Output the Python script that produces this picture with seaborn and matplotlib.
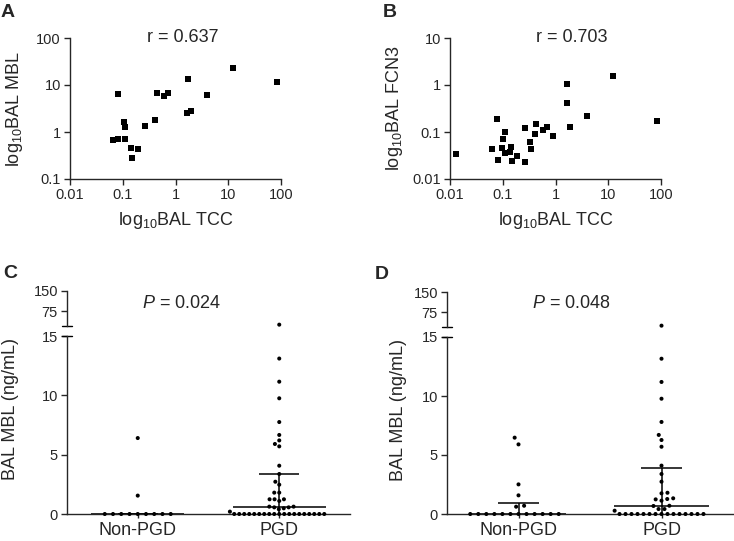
import matplotlib
matplotlib.use("Agg")
import matplotlib.pyplot as plt
from matplotlib.ticker import NullLocator
import seaborn as sns

# -----------------------------
# Style Settings
sns.set_style("ticks")
plt.rcParams["font.family"] = ["Liberation Sans", "DejaVu Sans"]
plt.rcParams["mathtext.fontset"] = "custom"
plt.rcParams["mathtext.rm"] = "Liberation Sans"
plt.rcParams["mathtext.it"] = "Liberation Sans:italic"

# -----------------------------
# Data
# A: BAL TCC vs BAL MBL
a_tcc = [0.080, 0.44, 0.61, 0.72, 1.69, 4.0, 1.94, 1.66, 0.104, 0.112,
         0.268, 0.414, 0.064, 0.082, 0.112, 0.143, 0.195, 0.152, 12.1, 85]
a_mbl = [6.44, 6.86, 5.83, 6.65, 13.2, 6.04, 2.84, 2.57, 1.63, 1.30,
         1.36, 1.83, 0.666, 0.72, 0.72, 0.457, 0.434, 0.284, 23.1, 11.5]

# B: BAL TCC vs BAL FCN3
b_tcc = [0.0128, 0.079, 0.0625, 0.080, 0.110, 0.102, 0.098, 0.110, 0.143,
         0.137, 0.147, 0.189, 0.261, 0.261, 0.329, 0.345, 0.427, 0.415,
         0.587, 0.70, 0.885, 1.67, 1.88, 4.0, 1.64, 12.1, 84]
b_fcn3 = [0.0335, 0.186, 0.0429, 0.0254, 0.100, 0.072, 0.0464, 0.0352,
          0.0486, 0.0381, 0.0245, 0.0309, 0.122, 0.0233, 0.0613, 0.0442,
          0.148, 0.0907, 0.110, 0.130, 0.082, 0.42, 0.130, 0.219, 1.04,
          1.56, 0.173]

# C and D: BAL MBL (ng/mL) by group
groups = ["Non-PGD", "PGD"]
c_nonpgd = [0, 0, 0, 0, 0, 0, 0, 0, 0, 1.55, 6.4]
c_pgd = [25, 13.1, 11.15, 9.75, 7.75, 6.66, 6.2, 5.9, 5.7, 4.07, 3.37,
         2.72, 2.47, 1.8, 1.8, 1.24, 1.24, 1.24, 1.1, 0.56, 0.48, 0.62,
         0.62, 0.56, 0.4, 0.2,
         0, 0, 0, 0, 0, 0, 0, 0, 0, 0, 0, 0, 0, 0, 0, 0, 0, 0, 0]
d_nonpgd = [0, 0, 0, 0, 0, 0, 0, 0, 0, 0, 0, 0,
            6.47, 5.9, 2.51, 1.58, 0.62, 0.7]
d_pgd = [25, 13.16, 11.19, 9.77, 7.8, 6.7, 6.27, 5.7, 4.1, 3.39, 2.74,
         1.75, 1.8, 1.33, 1.27, 1.13, 1.24, 0.7, 0.68, 0.28, 0.42, 0.42,
         0, 0, 0, 0, 0, 0, 0, 0, 0, 0, 0, 0, 0, 0, 0]

# median and interquartile range as drawn
c_median = [0, 0.62]
c_q1 = [0, 0]
c_q3 = [0, 3.37]
d_median = [0, 0.65]
d_q1 = [0, 0]
d_q3 = [0.9, 3.93]

log_ticks_a = [0.1, 1, 10, 100]
log_ticks_b = [0.01, 0.1, 1, 10]
log_ticks_x = [0.01, 0.1, 1, 10, 100]
lower_ticks = [0, 5, 10, 15]
upper_ticks = [75, 150]

TICK = 10.5
LAB = 13

fig = plt.figure(figsize=(7.34, 5.41), dpi=100)


def style(ax):
    for s in ax.spines.values():
        s.set_linewidth(1.0)
    ax.tick_params(labelsize=TICK, length=4, width=1.0, pad=2.5)


def drop_empty(ax):
    # seaborn leaves empty scatters for absent groups; unclipped they
    # would be drawn at the figure origin
    for coll in list(ax.collections):
        if hasattr(coll, "get_offsets") and len(coll.get_offsets()) == 0:
            coll.remove()


def scatter_panel(rect, x, y, yticks, ylabel, rtext, rx):
    ax = fig.add_axes(rect)
    sns.scatterplot(x=x, y=y, marker="s", s=19, color="black",
                    linewidth=0, ax=ax, clip_on=False)
    ax.set_xscale("log")
    ax.set_yscale("log")
    ax.set_xlim(0.01, 100)
    ax.set_ylim(yticks[0], yticks[-1])
    ax.set_xticks(log_ticks_x, labels=[f"{t:g}" for t in log_ticks_x])
    ax.set_yticks(yticks, labels=[f"{t:g}" for t in yticks])
    ax.xaxis.set_minor_locator(NullLocator())
    ax.yaxis.set_minor_locator(NullLocator())
    sns.despine(ax=ax)
    style(ax)
    ax.set_xlabel(r"log$_\mathregular{10}$BAL TCC", fontsize=LAB, labelpad=6)
    ax.set_ylabel(ylabel, fontsize=LAB)
    ax.yaxis.set_label_coords(-0.213, 0.5)
    ax.text(rx, 0.974, rtext, transform=ax.transAxes, ha="center",
            va="baseline", fontsize=LAB)
    return ax


def dot_panel(low_rect, up_rect, nonpgd, pgd, med, q1, q3, spacing,
              ptext, px, py, label_x):
    ax = fig.add_axes(low_rect)
    axt = fig.add_axes(up_rect)
    cut = 15
    for i, vals in enumerate([nonpgd, pgd]):
        # seaborn's beeswarm keeps ~1.05 x the marker extent between dots
        lw = spacing[i] / 1.07 - 2.9
        lo = [v for v in vals if v <= cut]
        hi = [v for v in vals if v > cut]
        sns.swarmplot(x=[groups[i]] * len(lo), y=lo, order=groups,
                      color="black", size=2.9, linewidth=lw,
                      edgecolor="none", ax=ax, clip_on=False)
        if hi:
            sns.swarmplot(x=[groups[i]] * len(hi), y=hi, order=groups,
                          color="black", size=2.9, linewidth=lw,
                          edgecolor="none", ax=axt, clip_on=False)
    drop_empty(ax)
    drop_empty(axt)

    # median with interquartile range
    for i in range(len(groups)):
        ax.hlines(med[i], i - 0.33, i + 0.33, color="black", lw=1.1, zorder=4)
        ax.hlines(q3[i], i - 0.14, i + 0.14, color="black", lw=1.1, zorder=4)
        ax.vlines(i, q1[i], q3[i], color="black", lw=1.1, zorder=4)

    ax.set_xlim(-0.5, 1.5)
    ax.set_ylim(0, cut)
    ax.set_yticks(lower_ticks)
    ax.set_xlabel("")
    ax.set_ylabel("BAL MBL (ng/mL)", fontsize=LAB)
    ax.yaxis.set_label_coords(label_x, 0.59)
    sns.despine(ax=ax)
    style(ax)
    ax.tick_params(axis="x", labelsize=LAB, length=3, pad=3)

    axt.set_xlim(-0.5, 1.5)
    axt.set_ylim(20, 150)
    axt.set_yticks(upper_ticks)
    axt.set_xticks([])
    axt.set_xlabel("")
    axt.set_ylabel("")
    sns.despine(ax=axt, bottom=True)
    style(axt)
    axt.patch.set_alpha(0)

    # axis break marks
    ax.plot([-0.017, 0.017], [cut, cut], color="black", lw=1.0,
            transform=ax.get_yaxis_transform(), clip_on=False)
    axt.plot([-0.017, 0.017], [20, 20], color="black", lw=1.0,
             transform=axt.get_yaxis_transform(), clip_on=False)

    axt.text(px, py, ptext, transform=axt.transAxes, ha="center",
             va="baseline", fontsize=LAB)
    return ax, axt


W, H = 734, 541


def rect(left, top, right, bottom):
    return [left / W, 1 - bottom / H, (right - left) / W, (bottom - top) / H]


scatter_panel(rect(70, 38, 281, 179), a_tcc, a_mbl, log_ticks_a,
              r"log$_\mathregular{10}$BAL MBL", "r = 0.637", 0.535)
scatter_panel(rect(450, 38, 661, 179), b_tcc, b_fcn3, log_ticks_b,
              r"log$_\mathregular{10}$BAL FCN3", "r = 0.703", 0.576)

dot_panel(rect(67, 336, 350, 514), rect(67, 291, 350, 326),
          c_nonpgd, c_pgd, c_median, c_q1, c_q3, [6.05, 3.67],
          r"$\mathit{P}$ = 0.024", 0.406, 0.506, -0.169)
dot_panel(rect(447, 337, 733, 514), rect(447, 292, 733, 327),
          d_nonpgd, d_pgd, d_median, d_q1, d_q3, [5.9, 4.4],
          r"$\mathit{P}$ = 0.048", 0.435, 0.534, -0.141)

for letter, x, y in [("A", 1, 16.7), ("B", 383, 16.7),
                     ("C", 3, 278.3), ("D", 375, 278.7)]:
    fig.text(x / W, 1 - y / H, letter, fontsize=14, fontweight="bold",
             ha="left", va="baseline")

plt.savefig("out.png", dpi=100)
